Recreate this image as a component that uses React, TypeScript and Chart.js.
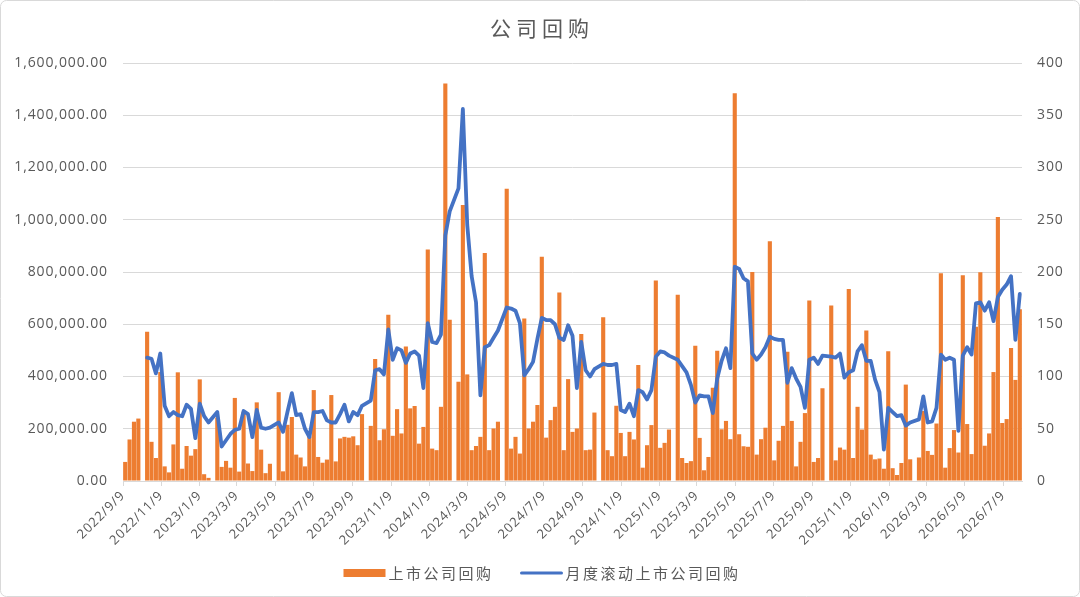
import React, { useEffect, useRef } from 'react';
import { Chart, registerables } from 'chart.js';

Chart.register(...registerables);

const TITLE = '公司回购';
const BAR_LABEL = '上市公司回购';
const LINE_LABEL = '月度滚动上市公司回购';

const X_LABELS = [
  '2022/9/9', '2022/11/9', '2023/1/9', '2023/3/9', '2023/5/9', '2023/7/9',
  '2023/9/9', '2023/11/9', '2024/1/9', '2024/3/9', '2024/5/9', '2024/7/9',
  '2024/9/9', '2024/11/9', '2025/1/9', '2025/3/9', '2025/5/9', '2025/7/9',
  '2025/9/9', '2025/11/9', '2026/1/9', '2026/3/9', '2026/5/9', '2026/7/9',
];

// weekly buyback amounts (null = holiday week with no data)
const BAR_VALUES: (number | null)[] = [
  73000, 159000, 227000, 239000, null, 571000, 150000, 88000, 417000, 56000,
  33000, 140000, 416000, 47000, 134000, 97000, 122000, 389000, 26000, 12000,
  null, 243000, 54000, 77000, 51000, 318000, 36000, 265000, 67000, 38000,
  301000, 120000, 30000, 66000, null, 340000, 37000, 215000, 245000, 101000,
  90000, 56000, 170000, 348000, 92000, 70000, 82000, 329000, 75000, 163000,
  169000, 166000, 171000, 137000, 256000, null, 211000, 467000, 156000, 198000,
  636000, 173000, 275000, 182000, 515000, 278000, 287000, 143000, 207000, 886000,
  124000, 118000, 284000, 1522000, 617000, null, 380000, 1056000, 408000, 118000,
  134000, 169000, 873000, 118000, 201000, 227000, null, 1119000, 124000, 169000,
  105000, 622000, 201000, 227000, 291000, 858000, 166000, 233000, 284000, 722000,
  118000, 390000, 188000, 201000, 563000, 118000, 120000, 262000, null, 627000,
  118000, 95000, 288000, 184000, 95000, 188000, 159000, 444000, 51000, 137000,
  214000, 767000, 127000, 146000, 197000, null, 713000, 88000, 69000, 76000,
  518000, 165000, 41000, 92000, 357000, 499000, 198000, 230000, 160000, 1484000,
  179000, 133000, 131000, 800000, 101000, 160000, 204000, 918000, 79000, 154000,
  211000, 495000, 230000, 56000, 150000, 260000, 691000, 73000, 88000, 355000,
  null, 672000, 79000, 128000, 120000, 735000, 88000, 284000, 197000, 576000,
  101000, 83000, 86000, 47000, 497000, 49000, 23000, 69000, 369000, 83000,
  null, 90000, 268000, 115000, 100000, 220000, 795000, 51000, 126000, 195000,
  109000, 788000, 218000, 103000, 590000, 799000, 135000, 182000, 417000, 1011000,
  222000, 237000, 509000, 387000, 657000,
];

// monthly rolling buyback (right axis)
const LINE_VALUES: (number | null)[] = [
  null, null, null, null, null, 118, 117, 103, 122, 72,
  62, 66, 63, 62, 73, 69, 41, 74, 62, 56,
  null, 66, 33, 39, 45, 49, 50, 67, 64, 42,
  68, 51, 50, 51, null, 56, 47, 66, 84, 63,
  64, 50, 42, 66, 66, 67, 58, 56, 56, 64,
  73, 57, 66, 63, 72, null, 77, 106, 107, 102,
  145, 116, 127, 125, 113, 122, 124, 120, 89, 151,
  133, 132, 140, 235, 258, null, 280, 356, 245, 196,
  171, 82, 128, 130, 137, 144, null, 166, 165, 163,
  151, 101, 107, 114, 136, 156, 154, 154, 150, 137,
  135, 149, 139, 89, 133, 106, 100, 107, null, 112,
  111, 111, 112, 68, 66, 74, 62, 87, 85, 78,
  87, 119, 124, 123, 120, null, 116, 110, 104, 92,
  75, 82, 81, 81, 65, 98, 115, 127, 108, 205,
  203, 194, 191, 122, 116, 121, 128, 138, 136, 135,
  135, 94, 108, 98, 90, 70, 116, 118, 112, 120,
  null, 119, 118, 122, 99, 104, 106, 124, 130, 115,
  115, 97, 85, 30, 70, 66, 62, 63, 53, 56,
  null, 59, 81, 56, 57, 70, 121, 116, 118, 116,
  48, 120, 128, 121, 170, 171, 163, 171, 153, 176,
  183, 188, 196, 135, 179,
];

const Y_MAX = 1600000;
const Y_STEP = 200000;
const Y2_MAX = 400;
const Y2_STEP = 50;
const START_DATE = '2022/9/9';
const DAYS_PER_SLOT = 6.97;

const BAR_COLOR = '#ED7D31';
const LINE_COLOR = '#4472C4';
const TEXT_COLOR = '#595959';
const GRID_COLOR = '#d9d9d9';
const CJK = '"Noto Sans CJK SC", "Noto Sans", sans-serif';
const NUM_FONT = '"Open Sans", "Noto Sans", sans-serif';

const W = 1080;
const H = 597;

function dayOffset(label: string): number {
  const [y, m, d] = label.split('/').map(Number);
  const [y0, m0, d0] = START_DATE.split('/').map(Number);
  return (Date.UTC(y, m - 1, d) - Date.UTC(y0, m0 - 1, d0)) / 86400000;
}

const TICK_POS = X_LABELS.map((l) => dayOffset(l) / DAYS_PER_SLOT - 0.5);

const decorPlugin = {
  id: 'decor',
  beforeDraw(chart: any) {
    (chart.ctx as any).letterSpacing = '0.9px';
  },
  afterDraw(chart: any) {
    const ctx = chart.ctx as CanvasRenderingContext2D & { letterSpacing?: string };
    ctx.save();
    // chart border
    ctx.strokeStyle = GRID_COLOR;
    ctx.lineWidth = 1;
    ctx.beginPath();
    (ctx as any).roundRect(0.5, 0.5, W - 1, H - 1, 6);
    ctx.stroke();

    // title
    ctx.fillStyle = TEXT_COLOR;
    ctx.font = `21px ${CJK}`;
    ctx.letterSpacing = '5px';
    ctx.textAlign = 'center';
    ctx.textBaseline = 'middle';
    ctx.fillText(TITLE, 542, 28);

    // legend
    ctx.font = `15px ${CJK}`;
    ctx.letterSpacing = '2.5px';
    ctx.textAlign = 'left';
    const w1 = ctx.measureText(BAR_LABEL).width;
    const w2 = ctx.measureText(LINE_LABEL).width;
    const sw = 42;
    const gap = 3;
    const itemGap = 27;
    const total = sw + gap + w1 + itemGap + sw + gap + w2;
    let x = 542 - total / 2;
    const y = 573;
    ctx.fillStyle = BAR_COLOR;
    ctx.fillRect(x, y - 4, sw, 8);
    x += sw + gap;
    ctx.fillStyle = TEXT_COLOR;
    ctx.fillText(BAR_LABEL, x, y);
    x += w1 + itemGap;
    ctx.strokeStyle = LINE_COLOR;
    ctx.lineWidth = 3;
    ctx.lineCap = 'round';
    ctx.beginPath();
    ctx.moveTo(x + 1, y);
    ctx.lineTo(x + sw - 1, y);
    ctx.stroke();
    x += sw + gap;
    ctx.fillText(LINE_LABEL, x, y);
    ctx.restore();
  },
};

export default function App() {
  const canvasRef = useRef<HTMLCanvasElement | null>(null);

  useEffect(() => {
    document.body.style.margin = '0';
    const canvas = canvasRef.current;
    if (!canvas) return;

    const barData = BAR_VALUES.map((v, i) => ({ x: i, y: v })).filter((p) => p.y !== null);
    const lineData = LINE_VALUES.map((v, i) => ({ x: i, y: v })).filter((p) => p.y !== null);

    const chart = new Chart(canvas, {
      type: 'bar',
      data: {
        datasets: [
          {
            type: 'line',
            label: LINE_LABEL,
            data: lineData as any,
            yAxisID: 'y2',
            borderColor: LINE_COLOR,
            backgroundColor: LINE_COLOR,
            borderWidth: 3.8,
            pointRadius: 0,
            tension: 0,
            spanGaps: true,
            borderCapStyle: 'round',
            borderJoinStyle: 'round',
            order: 1,
          } as any,
          {
            type: 'bar',
            label: BAR_LABEL,
            data: barData as any,
            yAxisID: 'y',
            backgroundColor: BAR_COLOR,
            borderWidth: 0,
            categoryPercentage: 1,
            barPercentage: 0.94,
            order: 2,
          } as any,
        ],
      },
      options: {
        animation: false,
        responsive: true,
        maintainAspectRatio: false,
        layout: { padding: { top: 63, left: 0, right: 0, bottom: 0 } },
        plugins: {
          legend: { display: false },
          title: { display: false },
          tooltip: { enabled: false },
        },
        scales: {
          x: {
            type: 'linear',
            offset: false,
            min: -0.5,
            max: BAR_VALUES.length - 0.5,
            afterBuildTicks: (scale: any) => {
              scale.ticks = TICK_POS.map((v) => ({ value: v }));
            },
            afterFit: (scale: any) => {
              scale.height = H - 481;
            },
            ticks: {
              autoSkip: false,
              minRotation: 45,
              maxRotation: 45,
              padding: 2,
              color: TEXT_COLOR,
              font: { family: NUM_FONT, size: 13 },
              callback: (_v: any, i: number) => X_LABELS[i],
            },
            grid: {
              display: true,
              offset: false,
              drawOnChartArea: false,
              drawTicks: true,
              tickLength: 5,
              color: GRID_COLOR,
            },
            border: { display: true, color: GRID_COLOR },
          },
          y: {
            position: 'left',
            min: 0,
            max: Y_MAX,
            afterFit: (scale: any) => {
              scale.width = 123;
            },
            ticks: {
              stepSize: Y_STEP,
              padding: 15,
              color: TEXT_COLOR,
              font: { family: NUM_FONT, size: 14 },
              callback: (v: any) =>
                Number(v).toLocaleString('en-US', { minimumFractionDigits: 2, maximumFractionDigits: 2 }),
            },
            grid: { color: GRID_COLOR, drawTicks: false, lineWidth: 1 },
            border: { display: false },
          },
          y2: {
            position: 'right',
            min: 0,
            max: Y2_MAX,
            afterFit: (scale: any) => {
              scale.width = W - 1022;
            },
            ticks: {
              stepSize: Y2_STEP,
              padding: 15,
              color: TEXT_COLOR,
              font: { family: NUM_FONT, size: 14 },
            },
            grid: { drawOnChartArea: false, drawTicks: false },
            border: { display: false },
          },
        },
      } as any,
      plugins: [decorPlugin],
    });

    return () => {
      chart.destroy();
    };
  }, []);

  return (
    <div style={{ position: 'relative', width: W, height: H, background: '#fff' }}>
      <canvas ref={canvasRef} />
    </div>
  );
}
